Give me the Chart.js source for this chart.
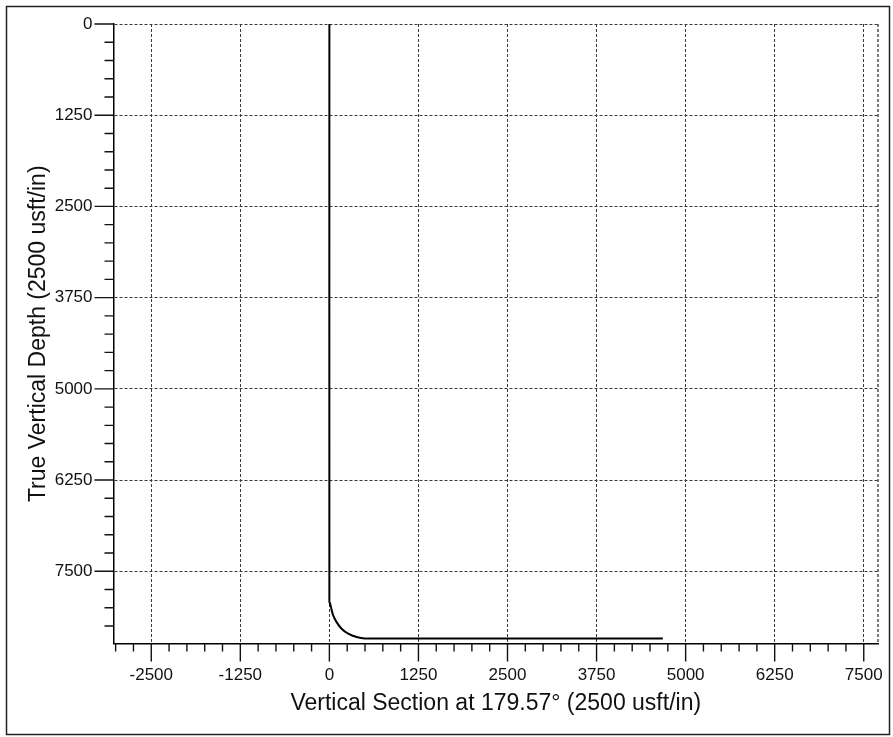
<!DOCTYPE html>
<html>
<head>
<meta charset="utf-8">
<script src="https://cdn.jsdelivr.net/npm/chart.js@4/dist/chart.umd.min.js"></script>
<style>
  html, body { margin: 0; padding: 0; background: #fff; }
  #wrap { width: 893px; height: 737px; position: relative; }
</style>
</head>
<body>
<div id="wrap"><canvas id="sectionChart"></canvas></div>
<script>
// well path: vertical section (usft) vs true vertical depth (usft)
const vsValues = [0, 0, 11, 30, 53, 101, 171, 264, 382, 498, 4680];
const tvdValues = [0, 7922, 7944, 8025, 8105, 8197, 8287, 8356, 8402, 8420, 8420];

const xRange = [-3030, 7700];
const yRange = [0, 8490];
const majorStep = 1250;
const minorStep = 250;

const xTitle = 'Vertical Section at 179.57° (2500 usft/in)';
const yTitle = 'True Vertical Depth (2500 usft/in)';

const isMajor = v => Math.abs(v % majorStep) < 1e-6;

// outer frame round the whole sheet
const sheetFrame = {
  id: 'sheetFrame',
  beforeDraw(chart) {
    const ctx = chart.ctx;
    ctx.save();
    ctx.fillStyle = '#fff';
    ctx.fillRect(0, 0, chart.width, chart.height);
    ctx.strokeStyle = '#222';
    ctx.lineWidth = 1.5;
    ctx.strokeRect(6.5, 6.5, 883, 728);
    ctx.restore();
  }
};

// long ticks on 1250, short ticks on 250, plus the right plot edge
const axisTicks = {
  id: 'axisTicks',
  afterDraw(chart) {
    const ctx = chart.ctx;
    const area = chart.chartArea;
    const xs = chart.scales.x, ys = chart.scales.y;
    ctx.save();
    ctx.strokeStyle = '#111';
    ctx.lineWidth = 1.4;
    ctx.beginPath();
    xs.ticks.forEach(t => {
      const px = xs.getPixelForValue(t.value);
      const len = isMajor(t.value) ? 18 : 8;
      ctx.moveTo(px, area.bottom);
      ctx.lineTo(px, area.bottom + len);
    });
    ys.ticks.forEach(t => {
      const py = ys.getPixelForValue(t.value);
      const len = isMajor(t.value) ? 19 : 9;
      ctx.moveTo(area.left, py);
      ctx.lineTo(area.left - len, py);
    });
    ctx.stroke();
    ctx.setLineDash([3, 2]);
    ctx.strokeStyle = '#333';
    ctx.lineWidth = 1.3;
    ctx.beginPath();
    ctx.moveTo(area.right, area.top);
    ctx.lineTo(area.right, area.bottom);
    ctx.stroke();
    ctx.restore();
  }
};

// one tick every 250 usft inside the axis range
const stepTicks = scale => {
  const list = [];
  for (let v = Math.ceil(scale.min / minorStep) * minorStep; v <= scale.max; v += minorStep) {
    list.push({ value: v });
  }
  scale.ticks = list;
};

const tickFont = { family: 'Liberation Sans', size: 17 };
const titleFont = { family: 'Liberation Sans', size: 23 };
const gridColor = c => (c.tick && isMajor(c.tick.value)) ? '#3a3a3a' : 'rgba(0,0,0,0)';

new Chart(document.getElementById('sectionChart'), {
  type: 'scatter',
  data: {
    datasets: [{
      data: vsValues.map((v, i) => ({ x: v, y: tvdValues[i] })),
      showLine: true,
      borderColor: '#000',
      borderWidth: 2,
      tension: 0.2,
      pointRadius: 0
    }]
  },
  options: {
    responsive: true,
    maintainAspectRatio: false,
    animation: false,
    layout: { padding: { left: 0, top: 24, right: 15, bottom: 0 } },
    plugins: {
      legend: { display: false },
      tooltip: { enabled: false }
    },
    scales: {
      x: {
        type: 'linear',
        position: 'bottom',
        min: xRange[0],
        max: xRange[1],
        afterBuildTicks: stepTicks,
        afterFit: s => { s.height = 93.5; s.paddingLeft = 0; s.paddingRight = 0; },
        ticks: {
          autoSkip: false,
          maxRotation: 0,
          padding: 22,
          color: '#111',
          font: tickFont,
          callback: v => isMajor(v) ? String(v) : ''
        },
        grid: { drawTicks: false, lineWidth: 1, color: gridColor },
        border: { display: true, color: '#000', width: 1.5, dash: [3, 2] },
        title: {
          display: true,
          text: xTitle,
          color: '#111',
          font: titleFont,
          padding: { top: 0, bottom: 20 }
        }
      },
      y: {
        type: 'linear',
        reverse: true,
        min: yRange[0],
        max: yRange[1],
        afterBuildTicks: stepTicks,
        afterFit: s => { s.width = 113.5; s.paddingTop = 0; s.paddingBottom = 0; },
        ticks: {
          autoSkip: false,
          padding: 21,
          color: '#111',
          font: tickFont,
          callback: v => isMajor(v) ? String(v) : ''
        },
        grid: { drawTicks: false, lineWidth: 1, color: gridColor },
        border: { display: true, color: '#000', width: 1.5, dash: [3, 2] },
        title: {
          display: true,
          text: yTitle,
          color: '#111',
          font: titleFont,
          padding: { top: 25, bottom: 0 }
        }
      }
    }
  },
  plugins: [sheetFrame, axisTicks]
});
</script>
</body>
</html>
